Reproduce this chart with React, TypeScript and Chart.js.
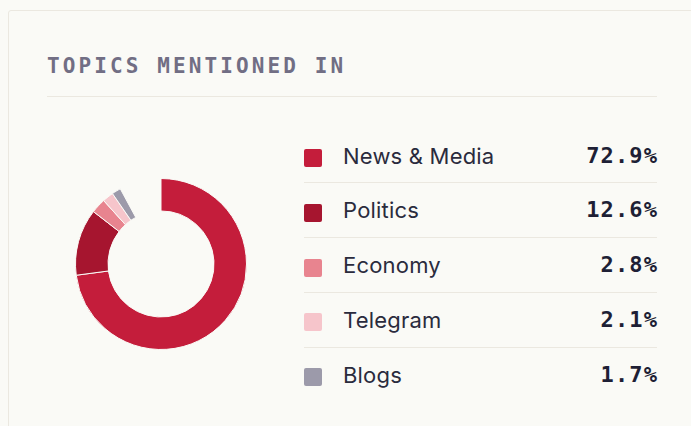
import React, { useEffect, useRef } from "react";
import { Chart, registerables } from "chart.js";

Chart.register(...registerables);

const TITLE = "TOPICS MENTIONED IN";
const categories = ["News & Media", "Politics", "Economy", "Telegram", "Blogs"];
const shares = [72.9, 12.6, 2.8, 2.1, 1.7];
const colors = ["#c41d3b", "#a6152f", "#e8848f", "#f6c5cb", "#9c9aaa"];

const BG = "#fafaf6";
const LINE = "#ebe8e0";

export default function App() {
  const ref = useRef<HTMLCanvasElement | null>(null);

  useEffect(() => {
    const total = shares.reduce((a, b) => a + b, 0);
    const chart = new Chart(ref.current as HTMLCanvasElement, {
      type: "doughnut",
      data: {
        labels: categories,
        datasets: [
          {
            data: shares,
            backgroundColor: colors,
            borderColor: BG,
            borderWidth: 1,
          },
        ],
      },
      options: {
        responsive: false,
        animation: false,
        cutout: "62%",
        rotation: 0,
        circumference: (total / 100) * 360,
        layout: { padding: 0 },
        plugins: { legend: { display: false }, tooltip: { enabled: false } },
      },
    });
    return () => chart.destroy();
  }, []);

  const rowPitch = 54.8;
  const firstRowTop = 128.5;

  return (
    <div style={{ position: "fixed", inset: 0, background: BG, overflow: "hidden" }}>
      <div
        style={{
          position: "absolute",
          left: 7.5,
          top: 10,
          width: 720,
          height: 460,
          border: `1.5px solid ${LINE}`,
          borderRadius: 3,
          background: BG,
          boxSizing: "border-box",
        }}
      />
      <div
        style={{
          position: "absolute",
          left: 47,
          top: 55,
          fontFamily: "'DejaVu Sans Mono', monospace",
          fontWeight: 700,
          fontSize: 21,
          lineHeight: "22px",
          letterSpacing: "3.1px",
          color: "#716e84",
          whiteSpace: "nowrap",
        }}
      >
        {TITLE}
      </div>
      <div
        style={{
          position: "absolute",
          left: 47,
          top: 96,
          width: 610,
          height: 1.2,
          background: LINE,
        }}
      />
      <canvas
        ref={ref}
        width={172}
        height={172}
        style={{ position: "absolute", left: 74.7, top: 178.2, width: 172, height: 172 }}
      />
      {categories.map((c, i) => (
        <div
          key={c}
          style={{
            position: "absolute",
            left: 304,
            top: firstRowTop + i * rowPitch,
            width: 353,
            height: rowPitch - 1,
            borderBottom: i < categories.length - 1 ? `1px solid ${LINE}` : "none",
            boxSizing: "content-box",
          }}
        >
          <div
            style={{
              position: "absolute",
              left: 0,
              top: 20.5,
              width: 18,
              height: 18,
              borderRadius: 2,
              background: colors[i],
            }}
          />
          <div
            style={{
              position: "absolute",
              left: 39,
              top: 12,
              fontFamily: "Inter, 'Noto Sans', sans-serif",
              fontSize: 22,
              lineHeight: "30px",
              letterSpacing: "0.2px",
              color: "#2a2b3d",
              whiteSpace: "nowrap",
            }}
          >
            {c}
          </div>
          <div
            style={{
              position: "absolute",
              right: -1,
              top: 12,
              fontFamily: "'DejaVu Sans Mono', monospace",
              fontWeight: 700,
              fontSize: 22,
              lineHeight: "30px",
              letterSpacing: "1.1px",
              color: "#1e1f35",
              whiteSpace: "nowrap",
            }}
          >
            {shares[i].toFixed(1)}%
          </div>
        </div>
      ))}
    </div>
  );
}
